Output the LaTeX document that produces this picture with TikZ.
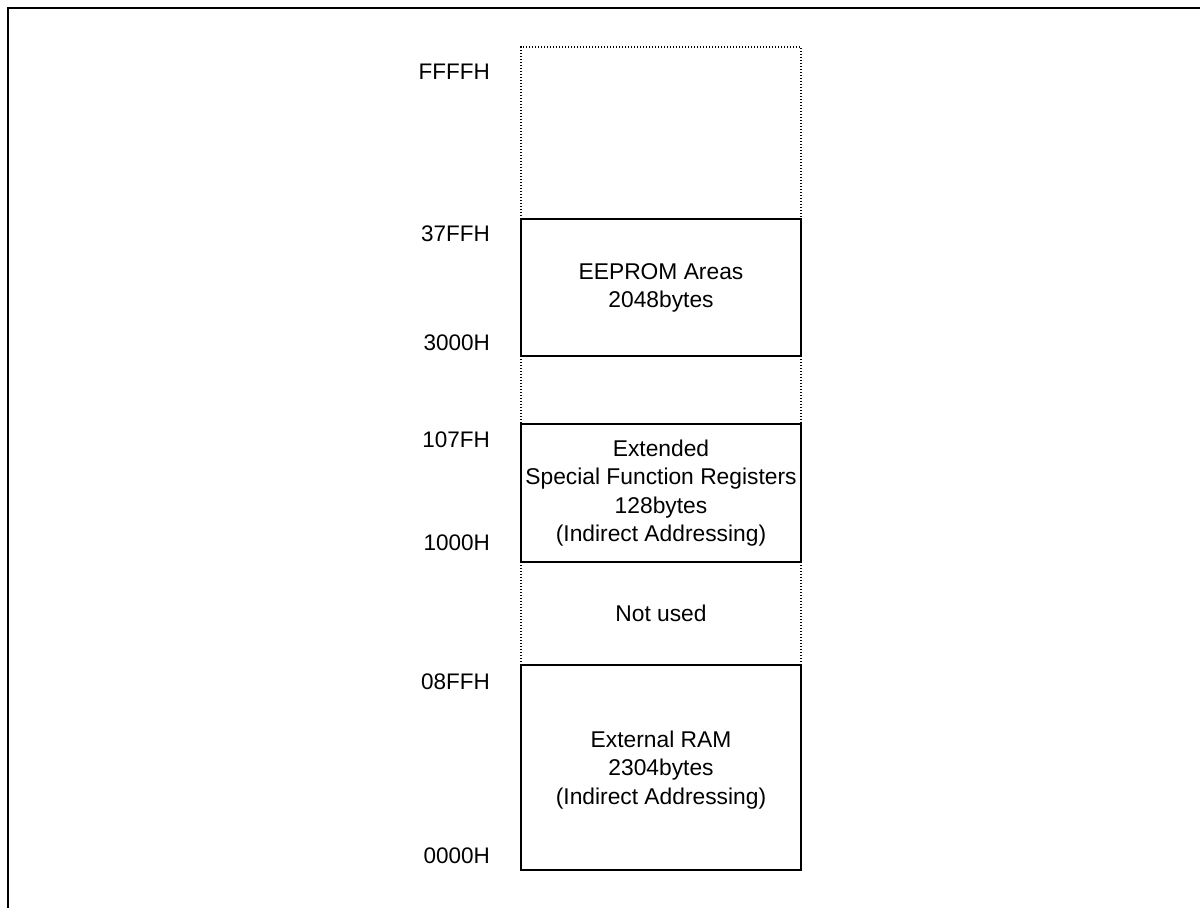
\documentclass[tikz,border=0pt]{standalone}
\usepackage{fontspec}
\setmainfont{Liberation Sans}
\begin{document}
\begin{tikzpicture}[x=1pt,y=-1pt,
  solidbox/.style={draw=black,line width=1.3pt},
  dotline/.style={draw=black,line width=1.3pt,dash pattern=on 1.4pt off 1.6pt},
  addr/.style={anchor=east,inner sep=0pt,font=\fontsize{22.5}{24}\selectfont},
  blocktext/.style={align=center,inner sep=0pt,font=\fontsize{22.8}{28.5}\selectfont},
  frameline/.style={draw=black,line width=2.6pt}]
\useasboundingbox (0,0) rectangle (1200,908);
% outer frame (top and left)
\draw[frameline] (8,908) -- (8,8) -- (1200,8);
% dotted regions
\draw[dotline] (521,219) -- (521,47) -- (801,47) -- (801,219);
\draw[dotline] (521,356) -- (521,424);
\draw[dotline] (801,356) -- (801,424);
\draw[dotline] (521,562) -- (521,665);
\draw[dotline] (801,562) -- (801,665);
% solid blocks
\draw[solidbox] (521,219) rectangle (801,356);
\draw[solidbox] (521,424) rectangle (801,562);
\draw[solidbox] (521,665) rectangle (801,870);
% block texts
\node[blocktext] (eeprom) at (661,288) {EEPROM Areas\\2048bytes};
\node[blocktext] (esfr) at (661,493) {Extended\\Special Function Registers\\128bytes\\(Indirect Addressing)};
\node[blocktext] (notused) at (661,613) {Not used};
\node[blocktext] (xram) at (661,770) {External RAM\\2304bytes\\(Indirect Addressing)};
% address labels
\node[addr] (aFFFF) at (490,72) {FFFFH};
\node[addr] (a37FF) at (490,234) {37FFH};
\node[addr] (a3000) at (490,343) {3000H};
\node[addr] (a107F) at (490,440) {107FH};
\node[addr] (a1000) at (490,543) {1000H};
\node[addr] (a08FF) at (490,682) {08FFH};
\node[addr] (a0000) at (490,856) {0000H};
\end{tikzpicture}
\end{document}
